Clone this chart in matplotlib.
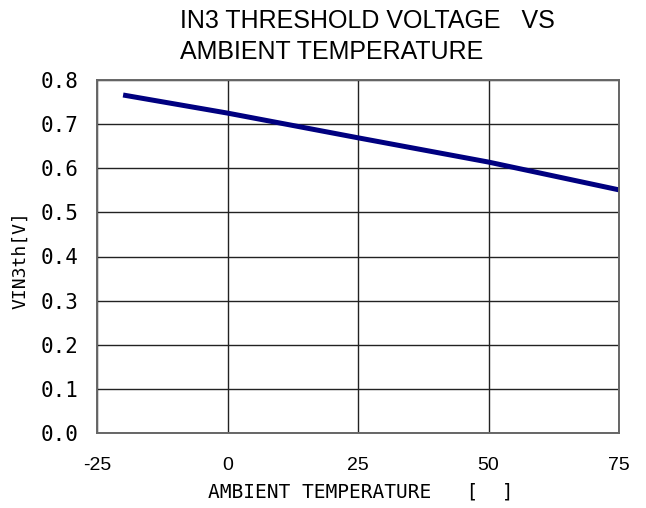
import matplotlib
matplotlib.use("Agg")
import matplotlib.pyplot as plt

# values
temp = [-20, 0, 25, 50, 75]
vin3th = [0.766, 0.725, 0.669, 0.614, 0.551]

x_ticks = [-25, 0, 25, 50, 75]
y_ticks = [0.0, 0.1, 0.2, 0.3, 0.4, 0.5, 0.6, 0.7, 0.8]

plt.rcParams['font.family'] = ['Liberation Sans', 'DejaVu Sans']

fig = plt.figure(figsize=(6.46, 5.08), dpi=100)
ax = fig.add_axes([97/646, 1 - 433/508, (619 - 97)/646, (433 - 80)/508])

ax.plot(temp, vin3th, color="#000080", linewidth=3.6, solid_capstyle="butt")

ax.set_xlim(-25, 75)
ax.set_ylim(0, 0.8)
ax.set_xticks(x_ticks)
ax.set_xticklabels([str(t) for t in x_ticks], fontsize=14)
ax.set_yticks(y_ticks)
ax.set_yticklabels([f"{v:.1f}" for v in y_ticks], fontsize=15,
                   family="DejaVu Sans Mono")
ax.tick_params(axis="x", length=0, pad=17)
ax.tick_params(axis="y", length=0, pad=13)
ax.grid(True, color="#222222", linewidth=1.0)
for s in ax.spines.values():
    s.set_color("#666666")
    s.set_linewidth(1.4)

fig.text(180/646, 1 - 21/508, "IN3 THRESHOLD VOLTAGE   VS",
         fontsize=18, ha="left", va="center")
fig.text(180/646, 1 - 52/508, "AMBIENT TEMPERATURE",
         fontsize=18, ha="left", va="center")
fig.text(361/646, 1 - 492/508, "AMBIENT TEMPERATURE   [  ]",
         fontsize=14, ha="center", va="center", family="DejaVu Sans Mono")
fig.text(20/646, 1 - 260/508, "VIN3th[V]", fontsize=13, rotation=90,
         ha="center", va="center", family="DejaVu Sans Mono")

fig.savefig("out.png", dpi=100)
